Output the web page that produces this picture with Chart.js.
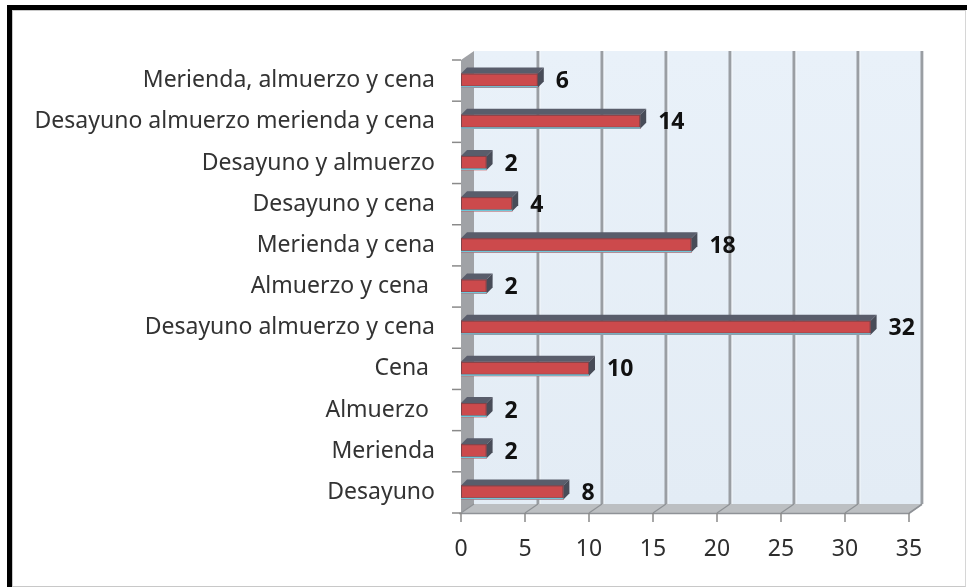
<!DOCTYPE html>
<html>
<head>
<meta charset="utf-8">
<script src="https://cdn.jsdelivr.net/npm/chart.js@4.4.0/dist/chart.umd.min.js"></script>
<style>
    html, body { margin: 0; padding: 0; background: #fff; }
    #frame { position: absolute; left: 7px; top: 5px; width: 960px; height: 582px; border-left: 5px solid #000; border-top: 5px solid #000; box-sizing: border-box; }
    #inner { position: absolute; left: 12px; top: 10px; width: 954px; height: 577px; border: 1px solid #c8c8c8; border-right-color: #d6d6d6; box-sizing: border-box; }
    #wrap { position: absolute; left: 0; top: 0; width: 967px; height: 587px; }
</style>
</head>
<body>
<div id="frame"></div>
<div id="inner"></div>
<div id="wrap"><canvas id="barChart"></canvas></div>
<script>
// categories from top to bottom, as in the picture
const categories = [
    "Merienda, almuerzo y cena",
    "Desayuno almuerzo merienda y cena",
    "Desayuno y almuerzo",
    "Desayuno y cena",
    "Merienda y cena",
    "Almuerzo y cena ",
    "Desayuno almuerzo y cena",
    "Cena ",
    "Almuerzo ",
    "Merienda",
    "Desayuno"
];
const counts = [6, 14, 2, 4, 18, 2, 32, 10, 2, 2, 8];
const xTicks = [0, 5, 10, 15, 20, 25, 30, 35];

// depth of the 3d walls
const DX = 13, DY = 9;

const wallsPlugin = {
    id: "walls",
    beforeDatasetsDraw(chart) {
        const ctx = chart.ctx;
        const { left, right, top, bottom } = chart.chartArea;
        const xs = chart.scales.x;

        ctx.save();
        // back wall
        const grad = ctx.createLinearGradient(0, top - DY, 0, bottom - DY);
        grad.addColorStop(0, "#e9f1f9");
        grad.addColorStop(1, "#e3ecf5");
        ctx.fillStyle = grad;
        ctx.fillRect(left + DX, top - DY, right - left, bottom - top);

        // grid lines on back wall
        xTicks.forEach(v => {
            if (v === 0) return;
            const gx = xs.getPixelForValue(v) + DX;
            ctx.fillStyle = "#9a9ea3";
            ctx.fillRect(gx - 1.5, top - DY, 3, bottom - top);
            ctx.fillStyle = "rgba(255,255,255,0.6)";
            ctx.fillRect(gx + 1.5, top - DY, 1, bottom - top);
        });

        // left wall
        ctx.fillStyle = "#a0a2a6";
        ctx.beginPath();
        ctx.moveTo(left, top);
        ctx.lineTo(left + DX, top - DY);
        ctx.lineTo(left + DX, bottom - DY);
        ctx.lineTo(left, bottom);
        ctx.closePath();
        ctx.fill();

        // floor
        ctx.fillStyle = "#bcbfc2";
        ctx.beginPath();
        ctx.moveTo(left, bottom);
        ctx.lineTo(left + DX, bottom - DY);
        ctx.lineTo(right + DX, bottom - DY);
        ctx.lineTo(right, bottom);
        ctx.closePath();
        ctx.fill();
        ctx.strokeStyle = "#8f9297";
        ctx.lineWidth = 1.5;
        ctx.beginPath();
        ctx.moveTo(left - 2, bottom + 0.5);
        ctx.lineTo(right, bottom + 0.5);
        ctx.lineTo(right + DX, bottom - DY + 0.5);
        ctx.stroke();

        // floor lines and tick marks
        xTicks.forEach(v => {
            const fx = xs.getPixelForValue(v);
            ctx.strokeStyle = "#8e9195";
            ctx.lineWidth = 1.2;
            ctx.beginPath();
            ctx.moveTo(fx, bottom);
            ctx.lineTo(fx + DX, bottom - DY);
            ctx.stroke();
            ctx.strokeStyle = "#8a8a8a";
            ctx.lineWidth = 1.5;
            ctx.beginPath();
            ctx.moveTo(fx, bottom);
            ctx.lineTo(fx, bottom + 9);
            ctx.stroke();
        });

        // category tick marks on left
        const step = (bottom - top) / categories.length;
        ctx.strokeStyle = "#8a8a8a";
        ctx.lineWidth = 1.5;
        for (let i = 0; i <= categories.length; i++) {
            const ty = top + i * step;
            ctx.beginPath();
            ctx.moveTo(left - 9, ty);
            ctx.lineTo(left, ty);
            ctx.stroke();
        }
        ctx.restore();
    },
    afterDatasetsDraw(chart) {
        const ctx = chart.ctx;
        const meta = chart.getDatasetMeta(0);
        const d = 6, d2 = 6;
        ctx.save();
        meta.data.forEach((bar, i) => {
            const { x, y, base, height } = bar.getProps(["x", "y", "base", "height"], true);
            const t = y - height / 2, b = y + height / 2;

            // top face
            ctx.fillStyle = "#595d6b";
            ctx.beginPath();
            ctx.moveTo(base, t);
            ctx.lineTo(x, t);
            ctx.lineTo(x + d, t - d2);
            ctx.lineTo(base + d, t - d2);
            ctx.closePath();
            ctx.fill();

            // right face
            ctx.fillStyle = "#484c58";
            ctx.beginPath();
            ctx.moveTo(x, t);
            ctx.lineTo(x + d, t - d2);
            ctx.lineTo(x + d, b - d2);
            ctx.lineTo(x, b);
            ctx.closePath();
            ctx.fill();

            // thin dark edge on the front face and light line at the bottom
            ctx.strokeStyle = "rgba(70,60,70,0.55)";
            ctx.lineWidth = 1;
            ctx.strokeRect(base + 0.5, t + 0.5, x - base - 1, height - 2);
            ctx.fillStyle = "#6fc6d8";
            ctx.fillRect(base, b - 1.5, x - base, 1.5);

            // value label
            ctx.fillStyle = "#111";
            ctx.font = "bold 23px 'Noto Sans'";
            ctx.textAlign = "left";
            ctx.textBaseline = "middle";
            ctx.fillText(String(counts[i]), x + d + 12, y + 1);
        });
        ctx.restore();
    }
};

const ctx = document.getElementById("barChart").getContext("2d");
new Chart(ctx, {
    type: "bar",
    data: {
        labels: categories,
        datasets: [{
            data: counts,
            backgroundColor: "#cc4a4c",
            borderWidth: 0,
            barThickness: 14
        }]
    },
    options: {
        indexAxis: "y",
        responsive: true,
        maintainAspectRatio: false,
        animation: false,
        layout: { padding: { top: 60, right: 58, left: 0, bottom: 0 } },
        plugins: {
            legend: { display: false },
            tooltip: { enabled: false }
        },
        scales: {
            x: {
                min: 0,
                max: 35,
                afterBuildTicks(scale) {
                    scale.ticks = xTicks.map(v => ({ value: v }));
                },
                afterFit(scale) { scale.height = 74; },
                grid: { display: false, drawTicks: false },
                border: { display: false },
                ticks: {
                    padding: 23,
                    color: "#2e2e2e",
                    font: { family: "'Noto Sans'", size: 23 }
                }
            },
            y: {
                afterFit(scale) { scale.width = 461; },
                grid: { display: false, drawTicks: false },
                border: { display: false },
                ticks: {
                    padding: 26,
                    color: "#333",
                    font: { family: "'Noto Sans'", size: 23 }
                }
            }
        }
    },
    plugins: [wallsPlugin]
});
</script>
</body>
</html>
